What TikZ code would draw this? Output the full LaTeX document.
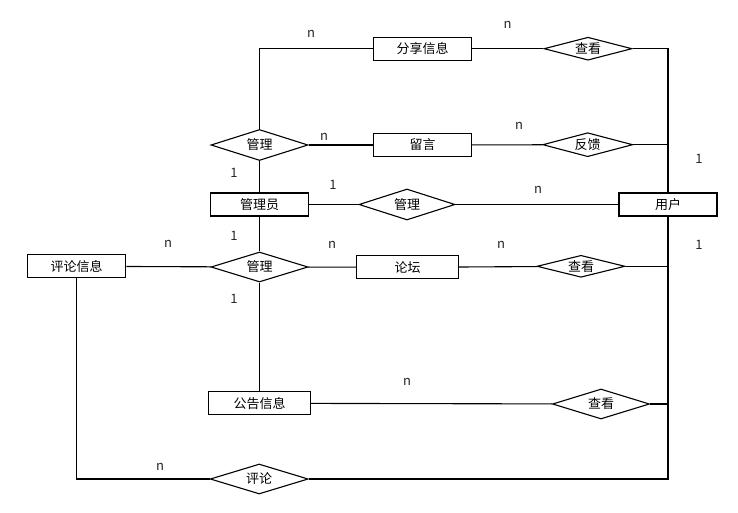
\documentclass[tikz,border=0pt]{standalone}
\usepackage{fontspec}
\setmainfont{Noto Sans CJK SC}
\usetikzlibrary{shapes.geometric, positioning}

\begin{document}
\begin{tikzpicture}[x=1pt, y=-1pt, line width=1.1pt,
    entity/.style={draw, rectangle, minimum width=98pt, minimum height=23pt, inner sep=0pt, line width=1.3pt, font=\fontsize{13}{15}\selectfont},
    relation/.style={draw, diamond, aspect=4, inner sep=0pt, minimum width=97pt, minimum height=30pt, font=\fontsize{13}{15}\selectfont},
    card/.style={inner sep=0pt, text=black!85, font=\fontsize{13}{15}\selectfont}]
    \useasboundingbox (0,0) rectangle (738,513);

    % entities
    \node[entity] (share) at (422.5,48.7) {分享信息};
    \node[entity] (msg) at (422.5,145) {留言};
    \node[entity] (admin) at (259.5,204.5) {管理员};
    \node[entity] (user) at (668,204.5) {用户};
    \node[entity] (cinfo) at (76.7,266.3) {评论信息};
    \node[entity, minimum width=102pt] (forum) at (407.5,267.3) {论坛};
    \node[entity, minimum width=102pt] (notice) at (259.5,403.3) {公告信息};

    % relations
    \node[relation, minimum width=88pt, minimum height=23pt] (view1) at (588,48.7) {查看};
    \node[relation, minimum height=31pt] (mgr1) at (259.5,145) {管理};
    \node[relation, minimum width=90pt, minimum height=24pt] (feed) at (587.7,144.7) {反馈};
    \node[relation, minimum width=96pt, minimum height=31pt] (mgr2) at (407,204.5) {管理};
    \node[relation] (mgr3) at (259.5,267) {管理};
    \node[relation, minimum width=88pt, minimum height=22pt] (view2) at (581,266.3) {查看};
    \node[relation] (view3) at (601,404) {查看};
    \node[relation, minimum width=98pt] (comment) at (259.2,479) {评论};

    % connectors
    \draw (share.west) -| (mgr1.north);
    \draw (share) -- (view1);
    \draw (view1.east) -| (user.north);
    \draw (mgr1) -- (msg);
    \draw (msg) -- (feed);
    \draw (feed.east) -- (feed.east -| user.north);
    \draw (mgr1) -- (admin);
    \draw (admin) -- (mgr2);
    \draw (mgr2) -- (user);
    \draw (admin) -- (mgr3);
    \draw (cinfo) -- (mgr3);
    \draw (mgr3) -- (forum);
    \draw (forum) -- (view2);
    \draw (view2.east) -- (view2.east -| user.south);
    \draw (mgr3) -- (notice);
    \draw (notice) -- (view3);
    \draw (view3.east) -- (view3.east -| user.south);
    \draw (cinfo.south) |- (comment.west);
    \draw (comment.east) -| (user.south);

    % cardinalities
    \node[card] (c1) at (311,34) {n};
    \node[card] (c2) at (507.7,25) {n};
    \node[card] (c3) at (324,137) {n};
    \node[card] (c4) at (519,126) {n};
    \node[card] (c5) at (699,159) {1};
    \node[card] (c6) at (234,173) {1};
    \node[card] (c7) at (333,185) {1};
    \node[card] (c8) at (538,190) {n};
    \node[card] (c9) at (234,236) {1};
    \node[card] (c10) at (168,244) {n};
    \node[card] (c11) at (332,245) {n};
    \node[card] (c12) at (501,245) {n};
    \node[card] (c13) at (699,245) {1};
    \node[card] (c14) at (234,299) {1};
    \node[card] (c15) at (407,382) {n};
    \node[card] (c16) at (160,467) {n};
\end{tikzpicture}
\end{document}
